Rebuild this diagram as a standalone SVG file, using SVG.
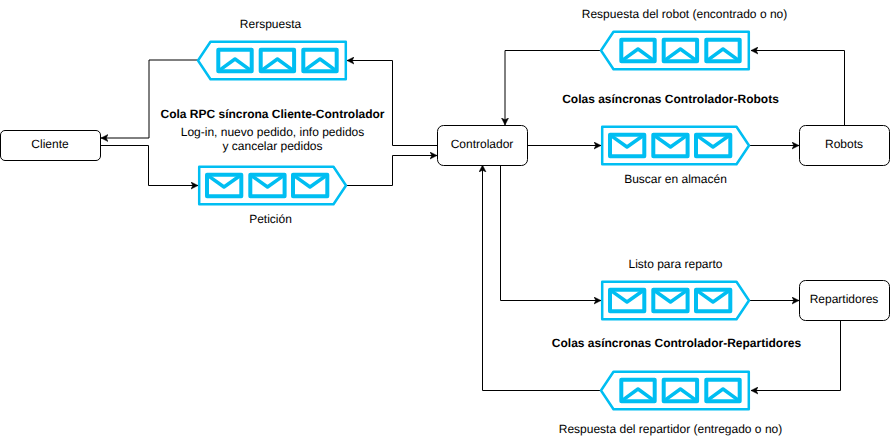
<svg xmlns="http://www.w3.org/2000/svg" width="890" height="446" viewBox="0 0 890 446">
<style>
text{font-family:"Liberation Sans",Arial,sans-serif;font-size:12px;fill:#000;text-anchor:middle;text-rendering:geometricPrecision}
.b{font-weight:bold}
.box{fill:#fff;stroke:#000;stroke-width:1}
.c{fill:none;stroke:#000;stroke-width:1}
.q{fill:#fff;stroke:#00BEF2;stroke-width:2.500;stroke-linejoin:round}
.e{fill:#fff;stroke:#00BEF2;stroke-width:4;stroke-linejoin:round}
.f{fill:none;stroke:#00BEF2;stroke-width:3.500;stroke-linejoin:round}
</style>
<defs>
<marker id="a" markerWidth="8" markerHeight="8" refX="7" refY="4" orient="auto" markerUnits="userSpaceOnUse">
<path d="M0 0.500L7 4L0 7.500L1.800 4Z" fill="#000" stroke="#000" stroke-width="0.500"/>
</marker>
<g id="qr">
<path class="q" d="M1.200 0.800H135.500L148 19.500L135.500 38.200H1.200Z"/>
<rect class="e" x="9" y="8.800" width="34.300" height="21.400"/><path class="f" d="M9 8.800L26 21L43.300 8.800"/>
<rect class="e" x="52.300" y="8.800" width="34.300" height="21.400"/><path class="f" d="M52.300 8.800L69.500 21L86.600 8.800"/>
<rect class="e" x="95" y="8.800" width="34.300" height="21.400"/><path class="f" d="M95 8.800L112 21L129.300 8.800"/>
</g>
<g id="ql">
<path class="q" d="M147.800 0.800H12.500L0 19.500L12.500 38.200H147.800Z"/>
<rect class="e" x="20.300" y="8.800" width="33.400" height="21.400"/><path class="f" d="M20.300 30.200L37 18L53.700 30.200"/>
<rect class="e" x="62.700" y="8.800" width="33.400" height="21.400"/><path class="f" d="M62.700 30.200L79.400 18L96.100 30.200"/>
<rect class="e" x="105.300" y="8.800" width="33.400" height="21.400"/><path class="f" d="M105.300 30.200L122 18L138.700 30.200"/>
</g>
</defs>
<g id="connectors">
<path class="c" marker-end="url(#a)" d="M198 60H149V138H101"/>
<path class="c" marker-end="url(#a)" d="M100 145.500H148.500V185.500H198"/>
<path class="c" marker-end="url(#a)" d="M437 145.500H392.500V60.500H347"/>
<path class="c" marker-end="url(#a)" d="M347 185.500H392.500V155.500H437"/>
<path class="c" marker-end="url(#a)" d="M601 50.500H505V125"/>
<path class="c" marker-end="url(#a)" d="M527 145.500H601"/>
<path class="c" marker-end="url(#a)" d="M749 145.500H799"/>
<path class="c" marker-end="url(#a)" d="M844.500 125V50.500H751"/>
<path class="c" marker-end="url(#a)" d="M601 390.500H482.500V165"/>
<path class="c" marker-end="url(#a)" d="M500.500 165V300.500H601"/>
<path class="c" marker-end="url(#a)" d="M750 300.500H799"/>
<path class="c" marker-end="url(#a)" d="M840.500 320V390.500H751"/>
</g>
<g id="cliente"><rect class="box" x="0.500" y="130.500" width="100" height="30" rx="4.500"/><text x="50" y="148">Cliente</text></g>
<g id="controlador"><rect class="box" x="437.500" y="125.500" width="90" height="40" rx="6"/><text x="482" y="148">Controlador</text></g>
<g id="robots"><rect class="box" x="799.500" y="125.500" width="90" height="40" rx="6"/><text x="844" y="148">Robots</text></g>
<g id="repartidores"><rect class="box" x="799.500" y="280.500" width="90" height="40" rx="6"/><text x="844" y="303">Repartidores</text></g>
<g id="cola-respuesta"><use href="#ql" x="198" y="41"/></g>
<g id="cola-peticion"><use href="#qr" x="198" y="166"/></g>
<g id="cola-robot"><use href="#ql" x="601" y="31"/></g>
<g id="cola-buscar"><use href="#qr" x="601" y="126"/></g>
<g id="cola-listo"><use href="#qr" x="601" y="281"/></g>
<g id="cola-repartidor"><use href="#ql" x="601" y="371"/></g>
<g id="labels">
<text x="270.500" y="28">Rerspuesta</text>
<text x="272.500" y="118" class="b">Cola RPC síncrona Cliente-Controlador</text>
<text x="272.500" y="136">Log-in, nuevo pedido, info pedidos</text>
<text x="272.500" y="150">y cancelar pedidos</text>
<text x="270.500" y="223">Petición</text>
<text x="684.500" y="18">Respuesta del robot (encontrado o no)</text>
<text x="670.500" y="103" class="b">Colas asíncronas Controlador-Robots</text>
<text x="675.500" y="183">Buscar en almacén</text>
<text x="675.500" y="268">Listo para reparto</text>
<text x="676.500" y="347" class="b">Colas asíncronas Controlador-Repartidores</text>
<text x="670.500" y="433">Respuesta del repartidor (entregado o no)</text>
</g>
</svg>
